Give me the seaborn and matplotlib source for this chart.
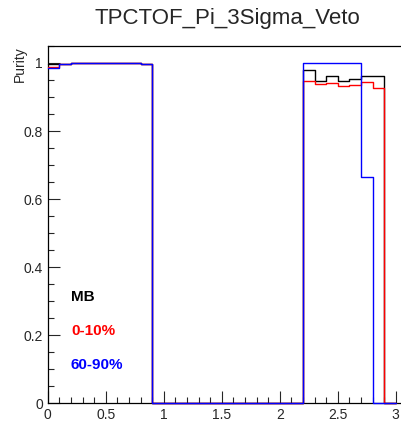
import numpy as np
import pandas as pd
import matplotlib
matplotlib.use("Agg")
import matplotlib.pyplot as plt
import seaborn as sns
from matplotlib.ticker import MultipleLocator, FuncFormatter

# bin edges: 30 bins of width 0.1 from 0 to 3
bin_edges = [round(0.1 * i, 1) for i in range(31)]

mb = [0.997, 0.998, 0.999, 0.999, 0.999, 0.999, 0.999, 0.999, 0.997,
      0, 0, 0, 0, 0, 0, 0, 0, 0, 0, 0, 0, 0,
      0.978, 0.946, 0.963, 0.946, 0.952, 0.963, 0.963, 0]
cent_0_10 = [0.987, 0.998, 0.999, 0.999, 0.999, 0.999, 0.999, 0.999, 0.997,
             0, 0, 0, 0, 0, 0, 0, 0, 0, 0, 0, 0, 0,
             0.946, 0.939, 0.941, 0.931, 0.935, 0.944, 0.926, 0]
cent_60_90 = [0.984, 0.997, 0.999, 0.999, 0.999, 0.999, 0.999, 0.999, 0.997,
              0, 0, 0, 0, 0, 0, 0, 0, 0, 0, 0, 0, 0,
              0.999, 0.999, 0.999, 0.999, 0.999, 0.665, 0, 0]

series_names = ["MB", "0-10%", "60-90%"]
series_colors = ["#000000", "#ff0000", "#0000ff"]
series_values = [mb, cent_0_10, cent_60_90]

title = "TPCTOF_Pi_3Sigma_Veto"
ylabel = "Purity"

sns.set_style("ticks")
plt.rcParams["font.family"] = ["Liberation Sans", "DejaVu Sans"]

fig = plt.figure(figsize=(4.02, 4.23), dpi=100)
ax = fig.add_axes([0.1187, 0.0466, 0.8813, 0.8447])

for i, (name, col, vals) in enumerate(zip(series_names, series_colors, series_values)):
    d = pd.DataFrame({"x": bin_edges, "y": list(vals) + [vals[-1]]})
    sns.lineplot(data=d, x="x", y="y", color=col, drawstyle="steps-post",
                 linewidth=1.0, estimator=None, sort=False, ax=ax,
                 zorder=3 + i, clip_on=False)

ax.set_xlim(0, 3.054)
ax.set_ylim(0, 1.05)
ax.set_xlabel("")
ax.set_ylabel("")
fig.text(20 / 402, 1 - 46 / 423, ylabel, rotation=90, ha="center", va="top",
         fontsize=10)

ax.xaxis.set_major_locator(MultipleLocator(0.5))
ax.xaxis.set_minor_locator(MultipleLocator(0.1))
ax.yaxis.set_major_locator(MultipleLocator(0.2))
ax.yaxis.set_minor_locator(MultipleLocator(0.05))
ax.xaxis.set_major_formatter(FuncFormatter(lambda v, p: f"{v:g}"))
ax.yaxis.set_major_formatter(FuncFormatter(lambda v, p: f"{v:g}"))

ax.tick_params(which="major", direction="in", length=8.5, width=0.8,
               labelsize=10, pad=3.5, top=False, right=False)
ax.tick_params(which="minor", direction="in", length=4.3, width=0.8,
               top=False, right=False)

for s in ["left", "bottom", "top"]:
    ax.spines[s].set_linewidth(0.9)
    ax.spines[s].set_color("black")
ax.spines["right"].set_visible(False)

fig.text(0.565, 0.943, title, ha="center", va="baseline", fontsize=16)

for name, col, yv in zip(series_names, series_colors, [0.3, 0.2, 0.1]):
    ax.text(0.2, yv, name, color=col, fontsize=11, fontweight="bold",
            ha="left", va="baseline")

fig.savefig("out.png", dpi=100)
